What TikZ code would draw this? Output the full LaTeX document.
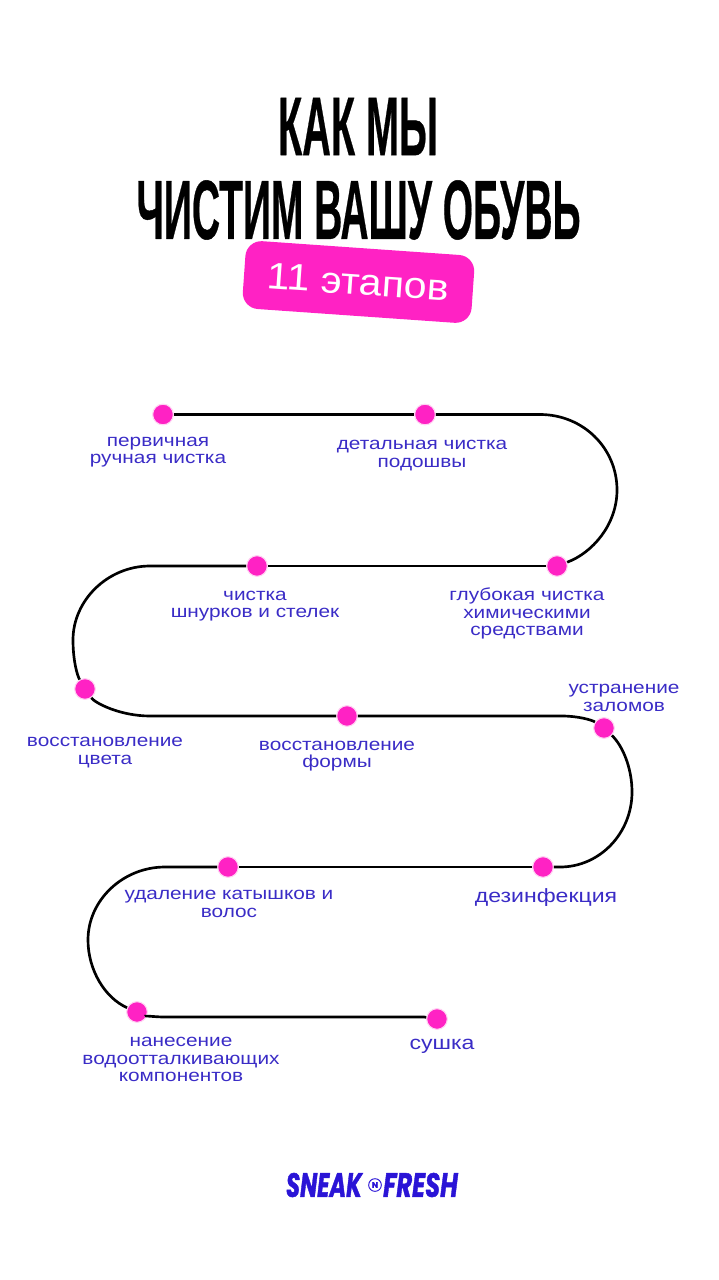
\documentclass[tikz,border=0pt]{standalone}
\usepackage{fontspec}
\setmainfont{Liberation Sans}
\newfontfamily\titlefont[FakeBold=0.6]{Liberation Sans}
\newfontfamily\logofont[FakeBold=1.5]{Poppins}
\definecolor{hotpink}{HTML}{FF22C4}
\definecolor{inkblue}{HTML}{3A2CC6}
\definecolor{logoblue}{HTML}{2A14D6}
\tikzset{%
  dot/.style    = {circle,fill=hotpink,draw=hotpink!20,line width=0.8pt,inner sep=0pt,minimum size=15.5pt},%
  track/.style  = {draw=black,line width=2pt},%
  lab/.style    = {align=center,text=inkblue,font=\fontsize{13}{13.2}\selectfont,inner sep=0pt,xscale=1.2,transform shape},%
  biglab/.style = {lab,font=\fontsize{14.4}{15}\selectfont},%
  heading/.style= {inner sep=0pt,text=black,font=\titlefont\bfseries\fontsize{60}{60}\selectfont},%
  logo/.style   = {inner sep=0pt,text=logoblue,font=\logofont\bfseries\itshape\fontsize{18}{18}\selectfont}%
}

\begin{document}
\begin{tikzpicture}[x=0.75pt,y=-0.75pt]
	\useasboundingbox (0,0) rectangle (718,1280);
	% heading
	\node [heading] (line1) at (358,126.5) {\resizebox{120pt}{43pt}{КАК МЫ}};
	\node [heading] (line2) at (358.5,210) {\resizebox{333pt}{44pt}{ЧИСТИМ ВАШУ ОБУВЬ}};
	\node [rotate=-4,fill=hotpink,rounded corners=12pt,minimum width=172pt,minimum height=51pt,
		inner sep=0pt,text=white,font=\fontsize{28}{28}\selectfont] (badge) at (358.5,282) {\scalebox{1.1}[1]{11 этапов}};
	% stops
	\node [dot] (d1) at (163,414.5) {};
	\node [dot] (d2) at (425,414.5) {};
	\node [dot] (d3) at (557,566) {};
	\node [dot] (d4) at (257,566) {};
	\node [dot] (d5) at (85,689) {};
	\node [dot] (d6) at (347,716) {};
	\node [dot] (d7) at (604,728) {};
	\node [dot] (d8) at (543,867) {};
	\node [dot] (d9) at (228,867) {};
	\node [dot] (d10) at (137,1012) {};
	\node [dot] (d11) at (437,1019) {};
	% turning points
	\coordinate (t1) at (540,414.5);
	\coordinate (t2) at (150,566);
	\coordinate (t3) at (150,716);
	\coordinate (t4) at (562,716);
	\coordinate (t5) at (560,867);
	\coordinate (t6) at (165,867);
	\coordinate (t7) at (165,1017);
	\coordinate (t8) at (424,1017);
	% line
	\draw [track] (d1) -- (d2);
	\draw [track] (d2) -- (t1) .. controls (583,414.5) and (617,448) .. (617,490)
		.. controls (617,525) and (592,553) .. (d3);
	\draw [track] (d3) -- (d4);
	\draw [track] (d4) -- (t2) .. controls (108,566) and (73,600) .. (73,640)
		.. controls (73,660) and (77,675) .. (d5);
	\draw [track] (d5) .. controls (95,703) and (120,716) .. (t3) -- (d6);
	\draw [track] (d6) -- (t4) .. controls (578,716) and (592,720) .. (d7);
	\draw [track] (d7) .. controls (622,745) and (632,767) .. (632,792)
		.. controls (632,833) and (600,867) .. (t5) -- (d8);
	\draw [track] (d8) -- (d9);
	\draw [track] (d9) -- (t6) .. controls (123,867) and (88,900) .. (88,940)
		.. controls (88,970) and (105,998) .. (d10);
	\draw [track] (d10) .. controls (143,1015) and (153,1017) .. (t7) -- (t8) -- (d11);
	% labels
	\node [lab] (l1) at (158,452) {первичная\\ручная чистка};
	\node [lab] (l2) at (422,455.5) {детальная чистка\\подошвы};
	\node [lab] (l3) at (527,613.5) {глубокая чистка\\химическими\\средствами};
	\node [lab] (l4) at (255,606) {чистка\\шнурков и стелек};
	\node [lab] (l5) at (105,752.5) {восстановление\\цвета};
	\node [lab] (l6) at (337,756) {восстановление\\формы};
	\node [lab] (l7) at (624,698) {устранение\\заломов};
	\node [biglab] (l8) at (546,898) {дезинфекция};
	\node [lab] (l9) at (229,904) {удаление катышков и\\волос};
	\node [lab] (l10) at (181,1059.5) {нанесение\\водоотталкивающих\\компонентов};
	\node [biglab] (l11) at (442,1046) {сушка};
	% logo
	\node [logo] (sneak) at (324,1185) {\resizebox{57pt}{18pt}{SNEAK}};
	\node [circle,draw=logoblue,line width=0.7pt,inner sep=0pt,minimum size=9.5pt,text=logoblue,
		font=\logofont\bfseries\fontsize{6}{6}\selectfont] (mark) at (375,1185) {N};
	\node [logo] (fresh) at (420.5,1185) {\resizebox{56pt}{18pt}{FRESH}};
\end{tikzpicture}
\end{document}
